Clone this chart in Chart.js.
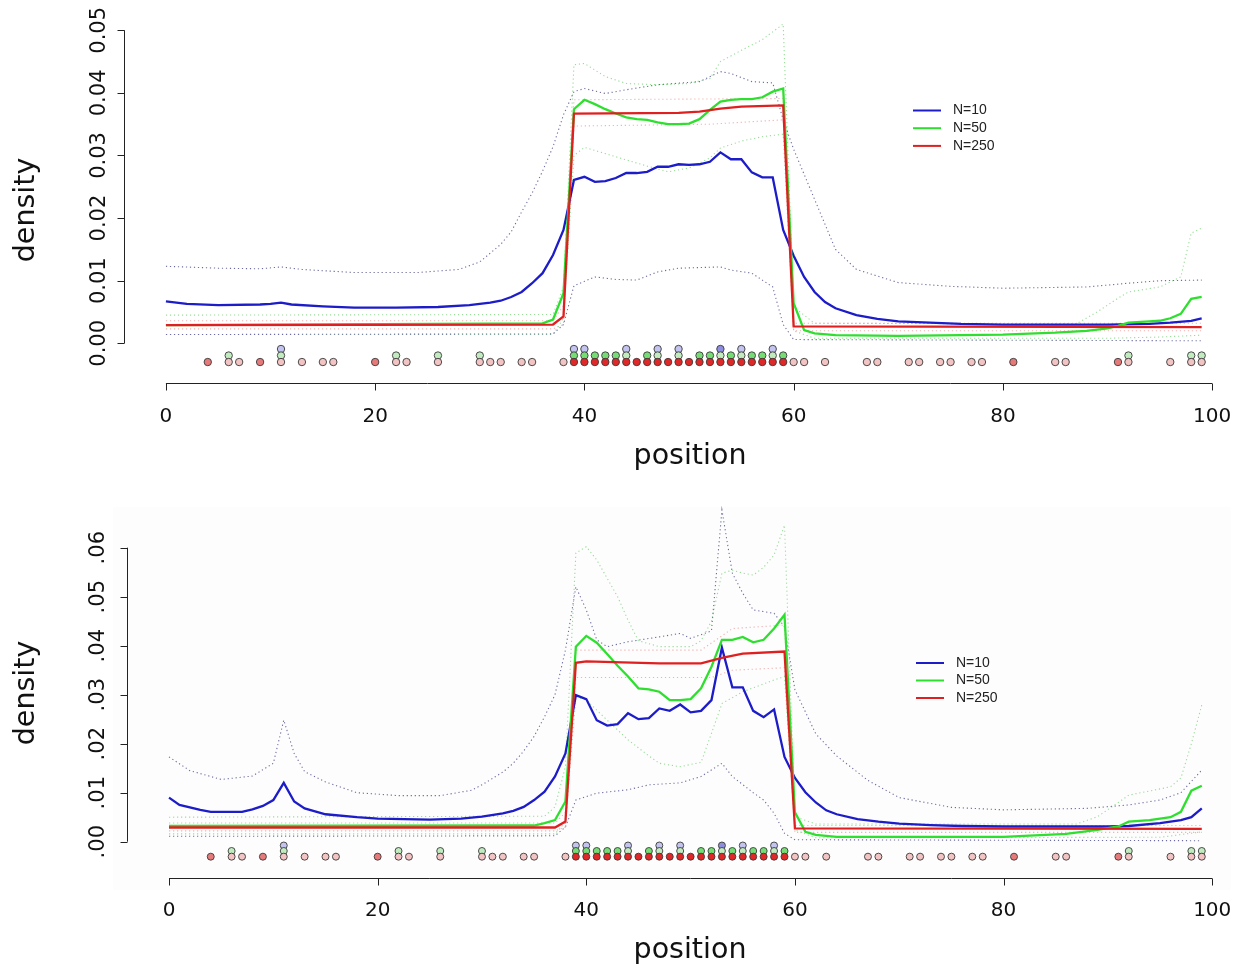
<!DOCTYPE html>
<html>
<head>
<meta charset="utf-8">
<script src="https://cdn.jsdelivr.net/npm/chart.js@4/dist/chart.umd.min.js"></script>
<style>
  body { margin: 0; background: #fff; }
  canvas { position: absolute; left: 0; }
</style>
</head>
<body>
<canvas id="upper" width="1248" height="485" style="top:0"></canvas>
<canvas id="lower" width="1248" height="485" style="top:485px"></canvas>
<script>
// axis ticks
const xTicks = [0, 20, 40, 60, 80, 100];
const yTicksA = [0, 0.01, 0.02, 0.03, 0.04, 0.05];
const yLabelsA = ['0.00', '0.01', '0.02', '0.03', '0.04', '0.05'];
const yTicksB = [0, 0.01, 0.02, 0.03, 0.04, 0.05, 0.06];
const yLabelsB = ['.00', '.01', '.02', '.03', '.04', '.05', '.06'];
const seriesNames = ['N=10', 'N=50', 'N=250'];

// sample positions per group and how many draws fell on each
const rug250Pos = [4, 6, 7, 9, 11, 13, 15, 16, 20, 22, 23, 26, 30, 31, 32, 34, 35, 38,
  39, 40, 41, 42, 43, 44, 45, 46, 47, 48, 49, 50, 51, 52, 53, 54, 55, 56, 57, 58, 59,
  60, 61, 63, 67, 68, 71, 72, 74, 75, 77, 78, 81, 85, 86, 91, 92, 96, 98, 99];
const rug250Cnt = [2, 1, 1, 2, 1, 1, 1, 1, 2, 1, 1, 1, 1, 1, 1, 1, 1, 1,
  3, 3, 3, 3, 3, 3, 3, 3, 3, 3, 3, 3, 3, 3, 3, 3, 3, 3, 3, 3, 3,
  1, 1, 1, 1, 1, 1, 1, 1, 1, 1, 1, 2, 1, 1, 2, 1, 1, 1, 1];
const rug50Pos = [6, 11, 22, 26, 30, 39, 40, 41, 42, 43, 44, 46, 47, 49, 51, 52, 53, 54, 55, 56, 57, 58, 59, 92, 98, 99];
const rug50Cnt = [1, 1, 1, 1, 1, 2, 2, 2, 2, 2, 1, 2, 1, 1, 2, 2, 1, 2, 1, 2, 2, 1, 2, 1, 1, 1];
const rug10Pos = [11, 39, 40, 44, 47, 49, 53, 55, 58];
const rug10Cnt = [1, 1, 1, 1, 1, 1, 2, 1, 1];

// ---- upper panel: density estimates ----
const aBlueX = [0, 2, 5, 9, 10, 11, 12, 15, 18, 22, 26, 29, 31, 32, 33, 34, 35, 36, 37, 38,
  39, 40, 41, 42, 43, 44, 45, 46, 47, 48, 49, 50, 51, 52, 53, 54, 55, 56, 57, 58,
  59, 60, 61, 62, 63, 64, 66, 68, 70, 73, 76, 80, 90, 94, 96, 98, 99];
const aBlueY = [0.0067, 0.0063, 0.0061, 0.0062, 0.0063, 0.0065, 0.0062, 0.0059, 0.0057, 0.0057,
  0.0058, 0.0061, 0.0065, 0.0068, 0.0074, 0.0082, 0.0096, 0.0112, 0.0141, 0.0181,
  0.0261, 0.0266, 0.0258, 0.0259, 0.0264, 0.0272, 0.0272, 0.0274, 0.0282, 0.0282,
  0.0286, 0.0285, 0.0286, 0.0290, 0.0305, 0.0294, 0.0294, 0.0273, 0.0265, 0.0265,
  0.0181, 0.0140, 0.0106, 0.0082, 0.0066, 0.0056, 0.0045, 0.0039, 0.0035, 0.0033,
  0.0031, 0.0030, 0.0030, 0.0031, 0.0033, 0.0036, 0.0040];
const aGreenX = [0, 36, 37, 38, 39, 40, 41, 42, 43, 44, 45, 46, 47, 48, 49, 50, 51, 52, 53, 54,
  55, 56, 57, 58, 59, 60, 61, 62, 64, 70, 80, 85, 88, 90, 91, 92, 94, 95, 96, 97, 98, 99];
const aGreenY = [0.0029, 0.0032, 0.0038, 0.0080, 0.0374, 0.0389, 0.0382, 0.0374, 0.0367, 0.0361,
  0.0358, 0.0357, 0.0353, 0.0350, 0.0350, 0.0351, 0.0358, 0.0373, 0.0386, 0.0389,
  0.0390, 0.0390, 0.0393, 0.0402, 0.0407, 0.0064, 0.0021, 0.0016, 0.0013, 0.0012,
  0.0014, 0.0017, 0.0020, 0.0024, 0.0028, 0.0033, 0.0035, 0.0036, 0.0040, 0.0047, 0.0071, 0.0074];
const aRedX = [0, 37, 38, 39, 49, 51, 53, 55, 59, 60, 99];
const aRedY = [0.0029, 0.0030, 0.0043, 0.0367, 0.0368, 0.0370, 0.0375, 0.0378, 0.0380, 0.0027, 0.0026];

// upper panel: pointwise bands
const aBlueHiX = [0, 5, 9, 11, 13, 18, 24, 28, 30, 32, 33, 34, 35, 36, 37, 38, 39, 40, 42, 44,
  47, 51, 53, 54, 56, 58, 59, 60, 61, 62, 64, 66, 70, 75, 80, 88, 92, 95, 99];
const aBlueHiY = [0.0123, 0.0120, 0.0119, 0.0122, 0.0118, 0.0113, 0.0113, 0.0118, 0.0130, 0.0158,
  0.0178, 0.0210, 0.0240, 0.0275, 0.0314, 0.0365, 0.0402, 0.0407, 0.0399, 0.0405,
  0.0413, 0.0418, 0.0434, 0.0431, 0.0418, 0.0416, 0.0357, 0.0310, 0.0270, 0.0230,
  0.0150, 0.0118, 0.0097, 0.0091, 0.0088, 0.0090, 0.0096, 0.0100, 0.0101];
const aBlueLoX = [0, 37, 38, 39, 41, 43, 45, 47, 49, 51, 53, 54, 56, 58, 59, 60, 99];
const aBlueLoY = [0.0014, 0.0015, 0.0030, 0.0092, 0.0106, 0.0102, 0.0101, 0.0114, 0.0120, 0.0121,
  0.0122, 0.0117, 0.0112, 0.0090, 0.0030, 0.0006, 0.0004];
const aGreenHiX = [0, 37, 38, 39, 40, 42, 44, 47, 50, 52, 53, 55, 57, 59, 60, 62, 87, 89, 91, 92, 95, 97, 98, 99];
const aGreenHiY = [0.0045, 0.0046, 0.0090, 0.0445, 0.0447, 0.0426, 0.0415, 0.0413, 0.0415, 0.0423,
  0.0450, 0.0468, 0.0485, 0.0510, 0.0058, 0.0032, 0.0031, 0.0050, 0.0072, 0.0082,
  0.0090, 0.0106, 0.0176, 0.0184];
const aGreenLoX = [0, 37, 38, 39, 40, 42, 44, 46, 48, 50, 52, 53, 55, 57, 59, 60, 62, 90, 95, 99];
const aGreenLoY = [0.0014, 0.0014, 0.0040, 0.0300, 0.0313, 0.0303, 0.0293, 0.0283, 0.0274, 0.0280,
  0.0296, 0.0312, 0.0323, 0.0330, 0.0334, 0.0020, 0.0008, 0.0008, 0.0010, 0.0013];
const aRedHiX = [0, 37, 38, 39, 59, 60, 99];
const aRedHiY = [0.0036, 0.0036, 0.0060, 0.0389, 0.0391, 0.0032, 0.0032];
const aRedLoX = [0, 37, 38, 39, 52, 59, 60, 99];
const aRedLoY = [0.0023, 0.0023, 0.0030, 0.0347, 0.0350, 0.0357, 0.0020, 0.0020];

// ---- lower panel: density estimates ----
const bBlueX = [0, 1, 3, 4, 7, 8, 9, 10, 11, 12, 13, 15, 18, 20, 25, 28, 30, 32, 33, 34,
  35, 36, 37, 38, 39, 40, 41, 42, 43, 44, 45, 46, 47, 48, 49, 50, 51, 52, 53, 54,
  55, 56, 57, 58, 59, 60, 61, 62, 63, 64, 66, 68, 70, 73, 76, 80, 90, 92, 95, 97, 98, 99];
const bBlueY = [0.0090, 0.0075, 0.0065, 0.0061, 0.0061, 0.0066, 0.0073, 0.0085, 0.0120, 0.0082,
  0.0068, 0.0056, 0.0050, 0.0047, 0.0045, 0.0047, 0.0051, 0.0058, 0.0063, 0.0071,
  0.0085, 0.0102, 0.0133, 0.0180, 0.0299, 0.0291, 0.0248, 0.0237, 0.0240, 0.0262,
  0.0250, 0.0252, 0.0272, 0.0267, 0.0280, 0.0264, 0.0267, 0.0289, 0.0396, 0.0315,
  0.0315, 0.0267, 0.0254, 0.0270, 0.0173, 0.0130, 0.0101, 0.0080, 0.0064, 0.0056,
  0.0046, 0.0041, 0.0037, 0.0034, 0.0032, 0.0031, 0.0031, 0.0032, 0.0038, 0.0044, 0.0050, 0.0068];
const bGreenX = [0, 35, 36, 37, 38, 39, 40, 41, 42, 43, 44, 45, 46, 47, 48, 49, 50, 51, 52, 53,
  54, 55, 56, 57, 58, 59, 60, 61, 62, 64, 80, 86, 89, 91, 92, 94, 96, 97, 98, 99];
const bGreenY = [0.0032, 0.0033, 0.0038, 0.0044, 0.0082, 0.0398, 0.0420, 0.0406, 0.0383, 0.0359,
  0.0337, 0.0313, 0.0311, 0.0306, 0.0289, 0.0289, 0.0291, 0.0313, 0.0357, 0.0412,
  0.0412, 0.0418, 0.0407, 0.0412, 0.0435, 0.0463, 0.0060, 0.0020, 0.0014, 0.0010,
  0.0010, 0.0016, 0.0024, 0.0031, 0.0041, 0.0044, 0.0050, 0.0061, 0.0104, 0.0114];
const bRedX = [0, 37, 38, 39, 40, 47, 51, 53, 55, 59, 60, 99];
const bRedY = [0.0029, 0.0029, 0.0041, 0.0365, 0.0368, 0.0364, 0.0364, 0.0375, 0.0384, 0.0388, 0.0027, 0.0026];

// lower panel: pointwise bands
const bBlueHiX = [0, 2, 5, 8, 10, 11, 12, 13, 15, 18, 22, 26, 29, 30, 32, 33, 34, 35, 36, 37,
  38, 39, 40, 41, 42, 44, 47, 49, 50, 52, 53, 54, 55, 56, 58, 59, 60, 62, 64, 67,
  70, 75, 80, 88, 92, 95, 97, 99];
const bBlueHiY = [0.0173, 0.0145, 0.0127, 0.0134, 0.0160, 0.0248, 0.0180, 0.0143, 0.0122, 0.0100,
  0.0094, 0.0094, 0.0105, 0.0116, 0.0142, 0.0160, 0.0185, 0.0215, 0.0255, 0.0300,
  0.0391, 0.0520, 0.0473, 0.0412, 0.0398, 0.0408, 0.0418, 0.0425, 0.0415, 0.0430,
  0.0677, 0.0548, 0.0507, 0.0473, 0.0466, 0.0439, 0.0310, 0.0220, 0.0175, 0.0125,
  0.0090, 0.0070, 0.0065, 0.0068, 0.0075, 0.0085, 0.0100, 0.0146];
const bBlueLoX = [0, 37, 38, 39, 41, 44, 46, 49, 51, 53, 54, 56, 57, 58, 59, 60, 99];
const bBlueLoY = [0.0011, 0.0012, 0.0030, 0.0085, 0.0099, 0.0106, 0.0116, 0.0120, 0.0133, 0.0160,
  0.0133, 0.0100, 0.0085, 0.0058, 0.0017, 0.0004, 0.0002];
const bGreenHiX = [0, 36, 37, 38, 39, 40, 41, 43, 44, 45, 47, 50, 51, 52, 53, 54, 55, 56, 57, 58,
  59, 60, 62, 87, 89, 91, 92, 96, 97, 98, 99];
const bGreenHiY = [0.0050, 0.0052, 0.0071, 0.0153, 0.0589, 0.0602, 0.0575, 0.0500, 0.0452, 0.0410,
  0.0398, 0.0398, 0.0410, 0.0450, 0.0548, 0.0554, 0.0548, 0.0544, 0.0560, 0.0585,
  0.0646, 0.0051, 0.0036, 0.0036, 0.0051, 0.0080, 0.0095, 0.0112, 0.0130, 0.0200, 0.0279];
const bGreenLoX = [0, 37, 38, 39, 40, 42, 44, 46, 47, 49, 51, 52, 53, 55, 58, 59, 60, 62, 95, 99];
const bGreenLoY = [0.0016, 0.0016, 0.0040, 0.0296, 0.0289, 0.0248, 0.0208, 0.0175, 0.0160, 0.0153,
  0.0162, 0.0221, 0.0282, 0.0306, 0.0330, 0.0337, 0.0024, 0.0008, 0.0009, 0.0020];
const bRedHiX = [0, 37, 38, 39, 51, 53, 54, 59, 60, 99];
const bRedHiY = [0.0038, 0.0038, 0.0060, 0.0391, 0.0391, 0.0420, 0.0435, 0.0442, 0.0033, 0.0033];
const bRedLoX = [0, 37, 38, 39, 52, 54, 59, 60, 99];
const bRedLoY = [0.0022, 0.0022, 0.0030, 0.0335, 0.0335, 0.0350, 0.0355, 0.0019, 0.0019];

const BLUE = '#1c1cc8', GREEN = '#2fdf2f', RED = '#df2020';
const BAND = { blue: '#6c6ca0', green: '#98dc98', red: '#efb2b2' };
const FILL = {
  red: ['#f3c4c4', '#e67a7a', '#e02828'],
  green: ['#c0ecc0', '#74de74'],
  blue: ['#c4c4f0', '#8e8ee0'],
};
const FONT = '"DejaVu Sans", sans-serif';

const zip = (xs, ys) => xs.map((x, i) => ({ x, y: ys[i] }));

function band(xs, ys, color) {
  return { data: zip(xs, ys), borderColor: color, borderWidth: 1.1, borderDash: [1.2, 2.8],
    pointRadius: 0, tension: 0, order: 4 };
}
function curve(xs, ys, color, label, order) {
  return { label, data: zip(xs, ys), borderColor: color, borderWidth: 2.3,
    pointRadius: 0, tension: 0, order };
}
function rug(pos, cnt, row, shades, radius) {
  return {
    type: 'scatter', order: 0,
    data: pos.map(p => ({ x: p, y: row })),
    pointRadius: radius, pointBorderWidth: 0.9, pointBorderColor: '#3a3a3a',
    pointBackgroundColor: cnt.map(c => shades[Math.min(c, shades.length) - 1]),
  };
}

// R-style axes, titles and legend
const rAxes = {
  id: 'rAxes',
  beforeDraw(chart, args, o) {
    if (!o.shade) return;
    const ctx = chart.ctx;
    ctx.save();
    ctx.fillStyle = '#fdfdfd';
    ctx.fillRect(o.shade[0], o.shade[1], o.shade[2], o.shade[3]);
    ctx.restore();
  },
  afterDraw(chart, args, o) {
    const { ctx, chartArea: a } = chart;
    const sx = chart.scales.x, sy = chart.scales.y;
    ctx.save();
    ctx.strokeStyle = '#222';
    ctx.fillStyle = '#111';
    ctx.lineWidth = 1;

    // x axis
    const by = Math.round(a.bottom) + 0.5;
    ctx.beginPath();
    ctx.moveTo(sx.getPixelForValue(xTicks[0]), by);
    ctx.lineTo(sx.getPixelForValue(xTicks[xTicks.length - 1]), by);
    xTicks.forEach(t => {
      const px = Math.round(sx.getPixelForValue(t)) + 0.5;
      ctx.moveTo(px, by);
      ctx.lineTo(px, by + 7);
    });
    ctx.stroke();
    ctx.font = '20px ' + FONT;
    ctx.textAlign = 'center';
    ctx.textBaseline = 'alphabetic';
    xTicks.forEach(t => ctx.fillText(String(t), sx.getPixelForValue(t), by + o.xLabelGap));

    // y axis
    const lx = Math.round(a.left) - 0.5;
    ctx.beginPath();
    ctx.moveTo(lx, sy.getPixelForValue(o.yTicks[0]));
    ctx.lineTo(lx, sy.getPixelForValue(o.yTicks[o.yTicks.length - 1]));
    o.yTicks.forEach(t => {
      const py = Math.round(sy.getPixelForValue(t)) + 0.5;
      ctx.moveTo(lx, py);
      ctx.lineTo(lx - 7, py);
    });
    ctx.stroke();
    ctx.font = '21px ' + FONT;
    o.yTicks.forEach((t, i) => {
      ctx.save();
      ctx.translate(o.yLabelX, sy.getPixelForValue(t));
      ctx.rotate(-Math.PI / 2);
      ctx.fillText(o.yLabels[i], 0, 0);
      ctx.restore();
    });

    // titles
    ctx.font = '28.5px ' + FONT;
    ctx.fillText('position', o.xTitle[0], o.xTitle[1]);
    ctx.save();
    ctx.translate(o.yTitle[0], o.yTitle[1]);
    ctx.rotate(-Math.PI / 2);
    ctx.textBaseline = 'middle';
    ctx.fillText('density', 0, 0);
    ctx.restore();

    // legend
    const entries = chart.data.datasets.filter(d => seriesNames.includes(d.label));
    ctx.font = '14px "Liberation Sans", Arial, sans-serif';
    ctx.textAlign = 'left';
    ctx.textBaseline = 'middle';
    ctx.lineWidth = 2;
    entries.forEach((d, i) => {
      const ly = o.legend[1] + i * o.legend[2];
      ctx.strokeStyle = d.borderColor;
      ctx.beginPath();
      ctx.moveTo(o.legend[0], ly);
      ctx.lineTo(o.legend[0] + 28, ly);
      ctx.stroke();
      ctx.fillStyle = '#222';
      ctx.fillText(d.label, o.legend[0] + 40, ly);
    });
    ctx.restore();
  },
};

function panel(id, sets, rows, radius, layout, yr, axes) {
  const datasets = [
    band(sets.bluHi[0], sets.bluHi[1], BAND.blue),
    band(sets.bluLo[0], sets.bluLo[1], BAND.blue),
    band(sets.grnHi[0], sets.grnHi[1], BAND.green),
    band(sets.grnLo[0], sets.grnLo[1], BAND.green),
    band(sets.redHi[0], sets.redHi[1], BAND.red),
    band(sets.redLo[0], sets.redLo[1], BAND.red),
    curve(sets.blu[0], sets.blu[1], BLUE, seriesNames[0], 3),
    curve(sets.grn[0], sets.grn[1], GREEN, seriesNames[1], 2),
    curve(sets.red[0], sets.red[1], RED, seriesNames[2], 1),
    rug(rug250Pos, rug250Cnt, rows[0], FILL.red, radius),
    rug(rug50Pos, rug50Cnt, rows[1], FILL.green, radius),
    rug(rug10Pos, rug10Cnt, rows[2], FILL.blue, radius),
  ];
  return new Chart(document.getElementById(id), {
    type: 'line',
    data: { datasets },
    options: {
      responsive: false,
      animation: false,
      events: [],
      devicePixelRatio: 1,
      layout: { padding: layout },
      scales: {
        x: { type: 'linear', min: -3.96, max: 102.96, display: false },
        y: { type: 'linear', min: yr[0], max: yr[1], display: false },
      },
      plugins: { legend: { display: false }, tooltip: { enabled: false }, rAxes: axes },
    },
    plugins: [rAxes],
  });
}

panel('upper', {
  blu: [aBlueX, aBlueY], grn: [aGreenX, aGreenY], red: [aRedX, aRedY],
  bluHi: [aBlueHiX, aBlueHiY], bluLo: [aBlueLoX, aBlueLoY],
  grnHi: [aGreenHiX, aGreenHiY], grnLo: [aGreenLoX, aGreenLoY],
  redHi: [aRedHiX, aRedHiY], redLo: [aRedLoX, aRedLoY],
}, [-0.00299, -0.00195, -0.00091], 3.7,
{ left: 124.5, right: 3, top: 10, bottom: 102.5 }, [-0.00626, 0.05324], {
  yTicks: yTicksA, yLabels: yLabelsA, yLabelX: 105, xLabelGap: 38.5,
  xTitle: [690, 464], yTitle: [27, 210], legend: [913, 110.5, 17.7],
});

panel('lower', {
  blu: [bBlueX, bBlueY], grn: [bGreenX, bGreenY], red: [bRedX, bRedY],
  bluHi: [bBlueHiX, bBlueHiY], bluLo: [bBlueLoX, bBlueLoY],
  grnHi: [bGreenHiX, bGreenHiY], grnLo: [bGreenLoX, bGreenLoY],
  redHi: [bRedHiX, bRedHiY], redLo: [bRedLoX, bRedLoY],
}, [-0.00306, -0.00190, -0.00078], 3.5,
{ left: 127.7, right: 4.1, top: 10, bottom: 92 }, [-0.00741, 0.07075], {
  yTicks: yTicksB, yLabels: yLabelsB, yLabelX: 104, xLabelGap: 37,
  xTitle: [690, 473], yTitle: [27, 208], legend: [916, 178, 17.5],
  shade: [113, 22, 1118, 383],
});
</script>
</body>
</html>
